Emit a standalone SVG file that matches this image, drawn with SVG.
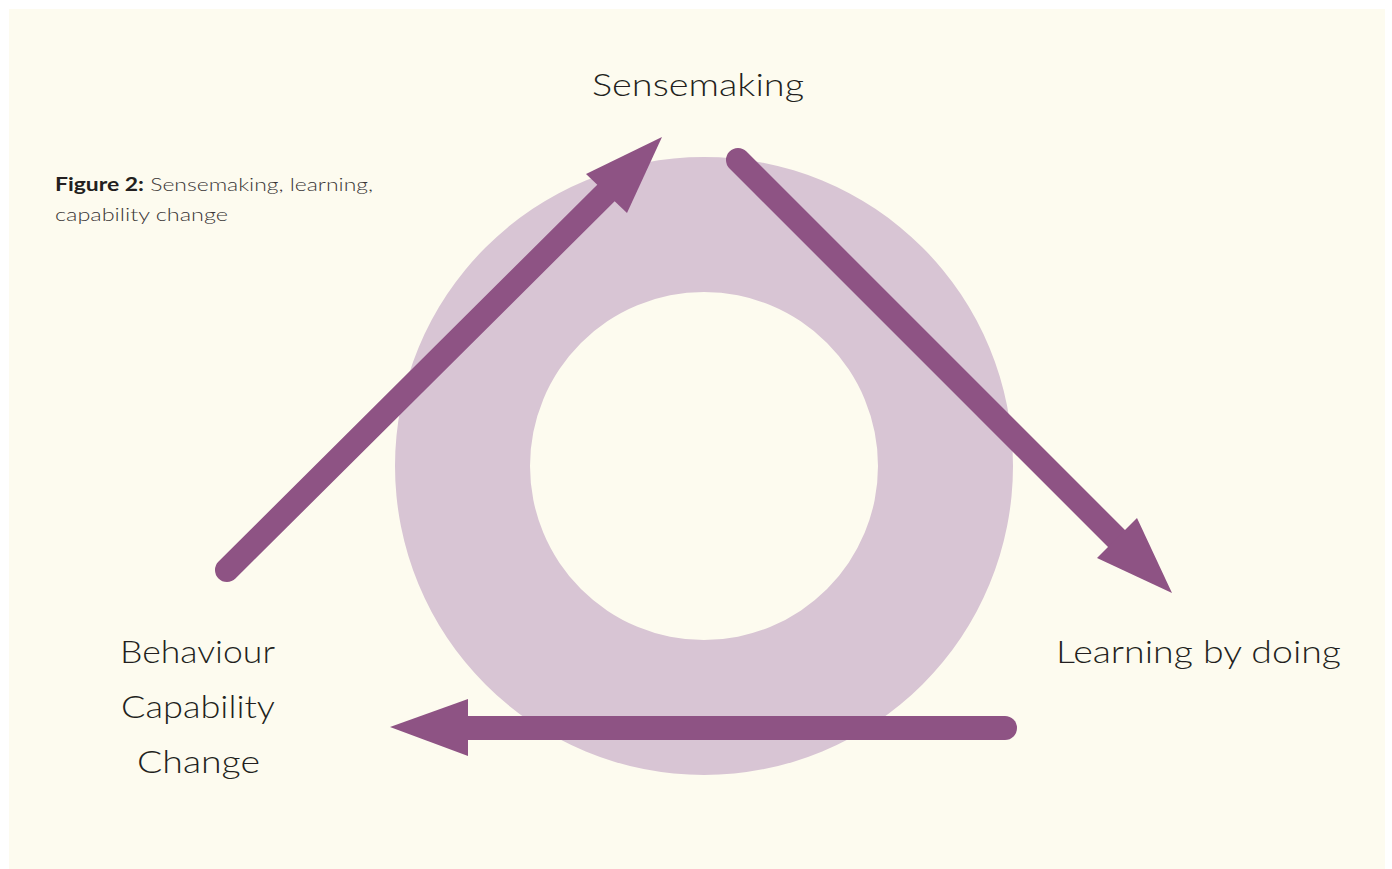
<svg xmlns="http://www.w3.org/2000/svg" width="1392" height="869" viewBox="0 0 1392 869">
<style>
.lbl{font-family:Lato,"Liberation Sans",Arial,sans-serif;font-weight:300;font-size:31px;fill:#231f20;}
.cap{font-family:Lato,"Liberation Sans",Arial,sans-serif;font-weight:300;font-size:18px;fill:#3a3636;}
.capb{font-weight:bold;fill:#231f20;}
.shaft{fill:none;stroke:#8e5384;stroke-width:24;stroke-linecap:round;}
.head{fill:#8e5384;}
</style>
<rect x="0" y="0" width="1392" height="869" fill="#ffffff"/>
<rect x="9" y="9" width="1376" height="860" fill="#fdfbef"/>
<g id="ring">
<path d="M704,157 A309,309 0 1,1 704,775 A309,309 0 1,1 704,157 Z M704,292 A174,174 0 1,0 704,640 A174,174 0 1,0 704,292 Z" fill="#d8c5d4" fill-rule="evenodd"/>
</g>
<g id="caption">
<text class="cap" x="55" y="191" textLength="318" lengthAdjust="spacingAndGlyphs"><tspan class="capb">Figure 2:</tspan> Sensemaking, learning,</text>
<text class="cap" x="55" y="221" textLength="173" lengthAdjust="spacingAndGlyphs">capability change</text>
</g>
<g id="sensemaking">
<text class="lbl" x="592" y="96" textLength="212" lengthAdjust="spacingAndGlyphs">Sensemaking</text>
</g>
<g id="learning">
<text class="lbl" x="1056" y="663" textLength="285" lengthAdjust="spacingAndGlyphs">Learning by doing</text>
</g>
<g id="behaviour">
<text class="lbl" x="120" y="663" textLength="155" lengthAdjust="spacingAndGlyphs">Behaviour</text>
<text class="lbl" x="121" y="718" textLength="154" lengthAdjust="spacingAndGlyphs">Capability</text>
<text class="lbl" x="137" y="773" textLength="123" lengthAdjust="spacingAndGlyphs">Change</text>
</g>
<g id="connectors">
<path class="shaft" d="M227,570 L610,189"/>
<polygon class="head" points="662,137 586,174 627,213"/>
<path class="shaft" d="M738,160 L1120,542"/>
<polygon class="head" points="1172,593 1137,518 1097,558"/>
<path class="shaft" d="M1005,728 L460,728"/>
<polygon class="head" points="390,727 468,699 468,756"/>
</g>
</svg>
